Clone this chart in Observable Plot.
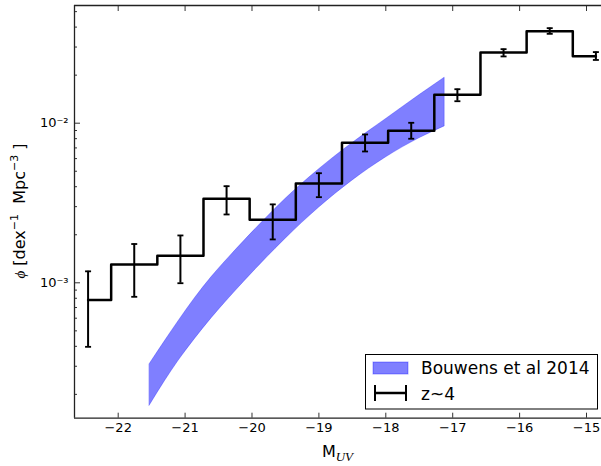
<!DOCTYPE html>
<html><head><meta charset="utf-8">
<script src="https://cdn.jsdelivr.net/npm/d3@7"></script>
<script src="https://cdn.jsdelivr.net/npm/@observablehq/plot@0.6"></script>
<style>
html,body{margin:0;padding:0;background:#fff;overflow:hidden;}
#chart{width:601px;height:466px;overflow:hidden;}
#chart svg{display:block;max-width:none !important;width:620px !important;height:466px !important;}
</style></head><body><div id="chart"></div>
<script>
// z~4 binned luminosity function (step histogram with error bars)
const magUV  = [-22.45, -21.76, -21.07, -20.38, -19.69, -19.0, -18.31, -17.62, -16.93, -16.24, -15.55, -14.86];
const phi    = [7.8e-4, 1.30e-3, 1.48e-3, 3.36e-3, 2.48e-3, 4.19e-3, 7.53e-3, 8.96e-3, 0.0151, 0.0277, 0.0377, 0.0263];
const phiHi  = [1.18e-3, 1.75e-3, 1.98e-3, 4.03e-3, 3.10e-3, 4.86e-3, 8.50e-3, 0.01006, 0.01633, 0.0291, 0.0394, 0.0279];
const phiLo  = [3.97e-4, 8.17e-4, 9.94e-4, 2.68e-3, 1.87e-3, 3.44e-3, 6.65e-3, 7.99e-3, 0.01373, 0.0262, 0.0363, 0.0249];

// Bouwens et al 2014 band (upper / lower envelope)
const bandMag = [-21.53, -21.3, -21.1, -20.85, -20.6, -20.35, -20.1, -19.8, -19.5, -19.0, -18.5, -18.0, -17.5, -17.12];
const bandHi  = [3.090e-4, 4.315e-4, 5.728e-4, 8.035e-4, 1.091e-3, 1.432e-3, 1.858e-3, 2.512e-3, 3.350e-3, 5.129e-3, 7.499e-3, 0.01059, 0.01496, 0.01928];
const bandLo  = [1.698e-4, 2.427e-4, 3.236e-4, 4.467e-4, 6.026e-4, 7.943e-4, 1.035e-3, 1.406e-3, 1.884e-3, 2.951e-3, 4.365e-3, 6.095e-3, 8.035e-3, 9.55e-3];

// axes (the axes box runs past the right edge of the picture, as in the reference)
const xDomain = [-22.653, -14.492];
const yDomain = [1.418e-4, 0.05463];
const xTicks = [-22, -21, -20, -19, -18, -17, -16, -15];
const yMajor = [1e-3, 1e-2];
const yMajorLabels = ["10⁻³", "10⁻²"];
const yMinor = [];
for (let e = -4; e <= -2; e++) for (let m = 2; m <= 9; m++) {
  const v = m * Math.pow(10, e);
  if (v >= yDomain[0] && v <= yDomain[1]) yMinor.push(v);
}

const legendLabels = ["Bouwens et al 2014", "z~4"];

const pts = magUV.map((m, i) => ({m, p: phi[i], lo: phiLo[i], hi: phiHi[i]}));
const band = bandMag.map((m, i) => ({m, hi: bandHi[i], lo: bandLo[i]}));
const capSymbol = {draw(ctx, size) { const r = Math.sqrt(size / Math.PI); ctx.moveTo(-r, 0); ctx.lineTo(r, 0); }};
const spine = {stroke: "#222", strokeWidth: 1.3};

const chart = Plot.plot({
  width: 620, height: 466,
  marginLeft: 74, marginRight: 0, marginTop: 5, marginBottom: 48.3,
  x: {type: "linear", domain: xDomain},
  y: {type: "log", domain: yDomain},
  style: {fontFamily: "DejaVu Sans, sans-serif", fontSize: "13px", color: "#000", background: "#fff", maxWidth: "none"},
  marks: [
    Plot.areaY(band, {x: "m", y1: "lo", y2: "hi", fill: "#0000ff", fillOpacity: 0.5, stroke: "#0000ff", strokeOpacity: 0.35, strokeWidth: 0.8, curve: "monotone-x"}),
    Plot.ruleX(pts, {x: "m", y1: "lo", y2: "hi", stroke: "#000", strokeWidth: 2}),
    Plot.dot(pts, {x: "m", y: "lo", symbol: capSymbol, r: 3, stroke: "#000", strokeWidth: 1.8, fill: "none"}),
    Plot.dot(pts, {x: "m", y: "hi", symbol: capSymbol, r: 3, stroke: "#000", strokeWidth: 1.8, fill: "none"}),
    Plot.line(pts, {x: "m", y: "p", curve: "step", stroke: "#000", strokeWidth: 2.5}),
    Plot.axisX({ticks: xTicks, tickSize: -5, tickPadding: 10, tickFormat: d => d < 0 ? "−" + Math.abs(d) : String(d), label: null, stroke: "#333"}),
    Plot.axisX({anchor: "top", ticks: xTicks, tickSize: -5, tickFormat: () => "", label: null, stroke: "#333"}),
    Plot.axisY({ticks: yMajor, tickSize: -6, tickPadding: 12, tickFormat: d => yMajorLabels[yMajor.indexOf(d)], label: null, stroke: "#333"}),
    Plot.axisY({ticks: yMinor, tickSize: -3, tickFormat: () => "", label: null, stroke: "#333"}),
    Plot.ruleY([yDomain[0]], spine),
    Plot.ruleY([yDomain[1]], spine),
    Plot.ruleX([xDomain[0]], spine)
  ]
});
document.getElementById("chart").appendChild(chart);

const svg = d3.select(chart);
// x label: M_UV (centred on the visible axes width)
const xl = svg.append("text").attr("x", 337.5).attr("y", 457).attr("text-anchor", "middle")
  .attr("font-family", "DejaVu Sans, sans-serif").attr("font-size", 16).attr("fill", "#000");
xl.append("tspan").text("M");
xl.append("tspan").attr("dy", 4).attr("font-family", "Liberation Serif, DejaVu Serif, serif")
  .attr("font-style", "italic").attr("font-size", 13).text("UV");

// y label: phi [dex^-1 Mpc^-3]
const yl = svg.append("text").attr("transform", "translate(25,211) rotate(-90)").attr("text-anchor", "middle")
  .attr("font-family", "DejaVu Sans, sans-serif").attr("font-size", 16).attr("fill", "#000");
yl.append("tspan").attr("font-family", "Liberation Serif, DejaVu Serif, serif").attr("font-style", "italic").attr("font-size", 15).text("ϕ");
yl.append("tspan").text(" [dex");
yl.append("tspan").attr("dy", -7).attr("font-size", 11).text("−1");
yl.append("tspan").attr("dy", 7).text("  Mpc");
yl.append("tspan").attr("dy", -7).attr("font-size", 11).text("−3");
yl.append("tspan").attr("dy", 7).text(" ]");

// legend
const lg = svg.append("g").attr("font-family", "DejaVu Sans, sans-serif").attr("font-size", 17).attr("text-anchor", "start");
lg.append("rect").attr("x", 365.5).attr("y", 354.5).attr("width", 232).attr("height", 54.5)
  .attr("fill", "#fff").attr("stroke", "#000").attr("stroke-width", 1);
lg.append("rect").attr("x", 373).attr("y", 362).attr("width", 35).attr("height", 12)
  .attr("fill", "#0000ff").attr("fill-opacity", 0.5).attr("stroke", "#0000ff").attr("stroke-opacity", 0.35);
lg.append("text").attr("x", 421).attr("y", 374).attr("text-anchor", "start").attr("fill", "#000").text(legendLabels[0]);
lg.append("line").attr("x1", 375).attr("x2", 406).attr("y1", 393).attr("y2", 393).attr("stroke", "#000").attr("stroke-width", 2.5);
lg.append("line").attr("x1", 375).attr("x2", 375).attr("y1", 385).attr("y2", 401).attr("stroke", "#000").attr("stroke-width", 2);
lg.append("line").attr("x1", 406).attr("x2", 406).attr("y1", 385).attr("y2", 401).attr("stroke", "#000").attr("stroke-width", 2);
lg.append("text").attr("x", 421).attr("y", 400).attr("text-anchor", "start").attr("fill", "#000").text(legendLabels[1]);
</script></body></html>
